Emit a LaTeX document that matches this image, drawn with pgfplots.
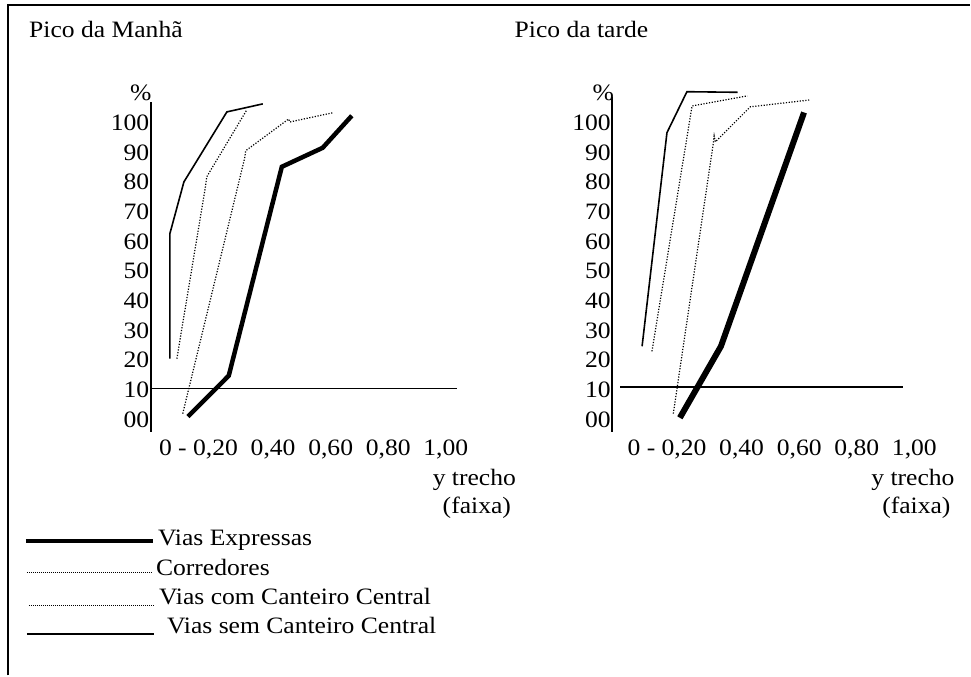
\documentclass[border=0pt]{standalone}
\usepackage{fontspec}
\setmainfont{Liberation Serif}[FakeStretch=1.09]
\usepackage{pgfplots}
\pgfplotsset{compat=1.18}
\pgfplotsset{
  panel/.style={
    scale only axis, anchor=south west, clip=false,
    axis x line=none, axis y line=left,
    y axis line style={-, line width=2pt},
    ytick={0,10,...,100},
    yticklabels={00,10,20,30,40,50,60,70,80,90,100},
    major tick length=0pt,
    yticklabel style={inner sep=0pt, xshift=-1.5pt, font=\fontsize{23.5}{27}\selectfont},
  },
  thin/.style={black, line width=1.6pt, no markers},
  dots/.style={black, line width=1.2pt, dash pattern=on 1.2pt off 1.6pt, no markers},
}
\begin{document}
\fontsize{23.5}{27}\selectfont
\begin{tikzpicture}[x=1pt,y=1pt]
\path (0,0) rectangle (971,-676);
\draw[line width=2pt] (8,-676) -- (8,-5) -- (971,-5);

% titles
\node[anchor=base west, inner sep=0] at (29,-38) {Pico da Manhã};
\node[anchor=base west, inner sep=0] at (515,-38) {Pico da tarde};

% ---------- left panel ----------
\begin{axis}[panel, at={(151pt,-432pt)}, width=306pt, height=330pt,
  xmin=-0.0468, xmax=1.255, ymin=-4.04, ymax=107.07]
\addplot[black, line width=1.5pt] coordinates {(-0.0468,10.44) (1.255,10.44)};
\addplot[thin] coordinates {(0.034,20.5) (0.034,62.6) (0.094,80.1) (0.277,103.7) (0.430,106.4)};
\addplot[dots] coordinates {(0.064,20.5) (0.187,79.1) (0.191,81.8) (0.362,104.4)};
\addplot[dots] coordinates {(0.089,2.0) (0.353,88.2) (0.357,90.6) (0.540,101.3) (0.545,100.3) (0.728,103.4)};
\addplot[black, line width=4.5pt, no markers] coordinates {(0.111,1.0) (0.285,14.8) (0.511,85.2) (0.685,91.6) (0.809,102.4)};
\end{axis}
\node[anchor=center, inner sep=0] at (141,-93) {\%};
\node[anchor=base west, inner sep=0] at (159,-456) {0 - 0,20\ \ 0,40\ \ 0,60\ \ 0,80\ \ 1,00};
\node[anchor=base west, inner sep=0] at (433,-486) {y trecho};
\node[anchor=base west, inner sep=0] at (443,-514) {(faixa)};

% ---------- right panel ----------
\begin{axis}[panel, at={(613pt,-432pt)}, width=291pt, height=335pt,
  xmin=-0.0766, xmax=1.162, ymin=-4.04, ymax=108.75]
\addplot[black, line width=1.5pt] coordinates {(-0.0426,11.0) (1.162,11.0)};
\addplot[thin] coordinates {(0.050,24.7) (0.156,96.7) (0.241,110.5) (0.457,110.3)};
\addplot[dots] coordinates {(0.092,23.0) (0.263,105.7) (0.499,109.1)};
\addplot[dots] coordinates {(0.183,2.0) (0.353,92.9) (0.357,95.6) (0.362,93.6) (0.511,105.4) (0.762,107.7)};
\addplot[black, line width=6pt, no markers] coordinates {(0.211,0.6) (0.386,24.7) (0.740,103.5)};
\end{axis}
\node[anchor=center, inner sep=0] at (604,-93) {\%};
\node[anchor=base west, inner sep=0] at (628,-456) {0 - 0,20\ \ 0,40\ \ 0,60\ \ 0,80\ \ 1,00};
\node[anchor=base west, inner sep=0] at (872,-486) {y trecho};
\node[anchor=base west, inner sep=0] at (883,-514) {(faixa)};

% ---------- legend ----------
\draw[line width=3.5pt] (26,-541.5) -- (153,-541.5);
\node[anchor=base west, inner sep=0] at (158,-546) {Vias Expressas};
\draw[line width=1pt, dash pattern=on 1pt off 1pt] (27,-573.5) -- (152,-573.5);
\node[anchor=base west, inner sep=0] at (156,-576) {Corredores};
\draw[line width=1pt, dash pattern=on 1pt off 1pt] (29,-606) -- (155,-606);
\node[anchor=base west, inner sep=0] at (159,-605) {Vias com Canteiro Central};
\draw[line width=1.5pt] (27,-634.5) -- (154,-634.5);
\node[anchor=base west, inner sep=0] at (167,-634) {Vias sem Canteiro Central};
\end{tikzpicture}
\end{document}
